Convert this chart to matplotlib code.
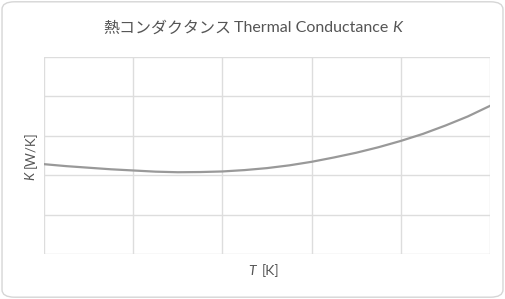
import matplotlib
matplotlib.use('Agg')
import matplotlib.pyplot as plt
from matplotlib.patches import FancyBboxPatch
from matplotlib.transforms import IdentityTransform

# フォント設定（ラテン文字は Lato、日本語は Noto Sans CJK JP）
plt.rcParams['font.family'] = ['Lato', 'Noto Sans CJK JP', 'DejaVu Sans']

# データ
temperature = [0, 0.25, 0.5, 0.75, 1, 1.25, 1.5, 1.75, 2, 2.25, 2.5, 2.75,
               3, 3.25, 3.5, 3.75, 4, 4.25, 4.5, 4.75, 5]
conductance = [2.28, 2.23, 2.19, 2.15, 2.12, 2.09, 2.075, 2.08, 2.095, 2.13, 2.18, 2.25,
               2.34, 2.45, 2.57, 2.71, 2.87, 3.05, 3.26, 3.49, 3.76]

W, H = 505, 299
fig = plt.figure(figsize=(W / 100, H / 100), dpi=100)
renderer = fig.canvas.get_renderer()

# 外枠（角丸）
frame = FancyBboxPatch((0.004, 0.006), 0.992, 0.988,
                       boxstyle='round,pad=0,rounding_size=0.025',
                       transform=fig.transFigure, facecolor='white',
                       edgecolor='#d6d6d6', linewidth=1.0, zorder=-10)
fig.patches.append(frame)

ax = fig.add_axes([44 / W, 1 - 254 / H, 446 / W, 197 / H])
ax.plot(temperature, conductance, color='#999999', linewidth=1.6, zorder=3)
ax.set_xlim(0, 5)
ax.set_ylim(0, 5)
ax.set_xticks(range(6))
ax.set_yticks(range(6))
ax.tick_params(length=0, labelleft=False, labelbottom=False)
ax.grid(True, color='#dddddd', linewidth=1.0)
for s in ax.spines.values():
    s.set_visible(False)
ax.set_facecolor('none')


def rich_text(x, y, parts, size, rotation=0, color='#555555'):
    # parts: (文字列, スタイル, 後ろの間隔px)。x, y はピクセル（上から）で、中心を指定
    items = []
    total = 0
    for s, style, gap in parts:
        t = fig.text(0, 0, s, fontsize=size, style=style, color=color,
                     rotation=rotation, rotation_mode='anchor',
                     ha='left', va='baseline', transform=IdentityTransform())
        bb = t.get_window_extent(renderer)
        w = bb.width if rotation == 0 else bb.height
        items.append((t, w, gap))
        total += w + gap
    total -= items[-1][2]
    pos = -total / 2
    for t, w, gap in items:
        if rotation == 0:
            t.set_position((x + pos, H - y))
        else:
            t.set_position((x, H - y + pos))
        pos += w + gap


# タイトル・軸ラベル
rich_text(253, 32.5, [('熱コンダクタンス', 'normal', 3),
                      ('Thermal Conductance', 'normal', 4),
                      ('K', 'italic', 0)], 11.5)
rich_text(264, 275, [('T', 'italic', 6), ('[K]', 'normal', 0)], 10)
rich_text(34.5, 155.5, [('K', 'italic', 3), ('[W/K]', 'normal', 0)], 9.5, rotation=90)

fig.savefig('out.png', dpi=100)
